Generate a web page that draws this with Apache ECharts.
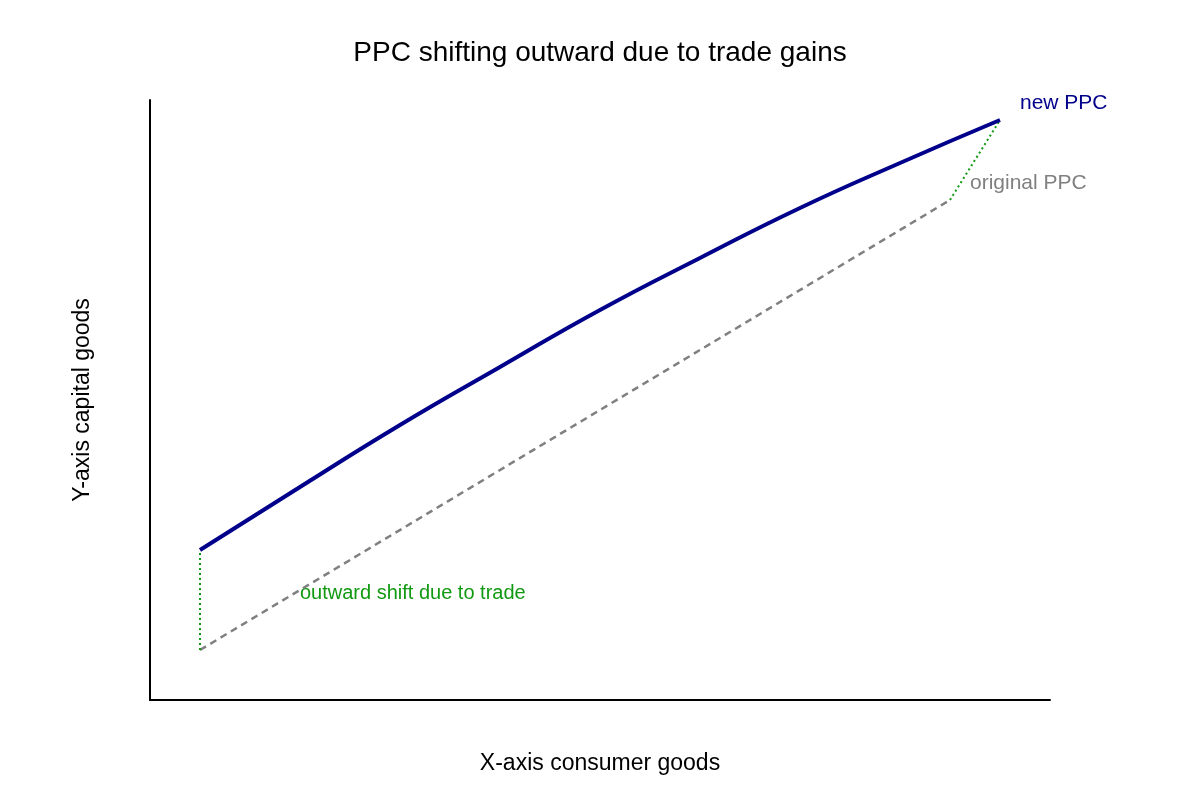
<!DOCTYPE html>
<html><head><meta charset="utf-8">
<script src="https://cdn.jsdelivr.net/npm/echarts@6/dist/echarts.min.js"></script>
<style>html,body{margin:0;padding:0;background:#fff}#c{width:1200px;height:800px}</style>
</head><body><div id="c"></div>
<script>
const newPPC = [[0.5,1.5],[1.5,2.13],[2.5,2.75],[3.5,3.33],[4.5,3.9],[5.5,4.42],[6.5,4.92],[7.5,5.37],[8.5,5.8]];
const originalPPC = [[0.5,0.5],[8.0,5.0]];
const shiftLeft = [[0.5,0.5],[0.5,1.5]];
const shiftRight = [[8.0,5.0],[8.5,5.8]];
const labels = [
  {value:[8.7,5.97], text:'new PPC', color:'#00008b', size:21},
  {value:[8.2,5.17], text:'original PPC', color:'#808080', size:21},
  {value:[1.5,1.07], text:'outward shift due to trade', color:'#119911', size:20}
];
const font = '"Liberation Sans", Arial, sans-serif';
const chart = echarts.init(document.getElementById('c'));
chart.setOption({
  animation:false,
  textStyle:{fontFamily:font},
  title:{text:'PPC shifting outward due to trade gains',left:'center',top:34,textStyle:{fontFamily:font,fontSize:28,fontWeight:'normal',color:'#000'}},
  grid:{left:150,right:150,top:100,bottom:100},
  xAxis:{type:'value',min:0,max:9,name:'X-axis consumer goods',nameLocation:'middle',nameGap:52,nameTextStyle:{fontSize:23,color:'#000'},
    axisLine:{lineStyle:{color:'#000',width:2}},axisTick:{show:false},axisLabel:{show:false},splitLine:{show:false}},
  yAxis:{type:'value',min:0,max:6,name:'Y-axis capital goods',nameLocation:'middle',nameGap:56,nameTextStyle:{fontSize:23,color:'#000'},
    axisLine:{show:true,lineStyle:{color:'#000',width:2}},axisTick:{show:false},axisLabel:{show:false},splitLine:{show:false}},
  series:[
    {type:'line',data:originalPPC,symbol:'none',lineStyle:{color:'#808080',width:2.5,type:[7,5]}},
    {type:'line',data:shiftLeft,symbol:'none',lineStyle:{color:'#119911',width:2,type:[2,3]}},
    {type:'line',data:shiftRight,symbol:'none',lineStyle:{color:'#119911',width:2,type:[2,3]}},
    {type:'line',data:newPPC,symbol:'none',smooth:true,lineStyle:{color:'#00008b',width:4}},
    {type:'scatter',symbolSize:0,itemStyle:{opacity:1},data:labels.map(l=>({value:l.value,label:{show:true,position:'right',distance:0,formatter:l.text,color:l.color,fontSize:l.size}}))}
  ]
});
</script></body></html>
